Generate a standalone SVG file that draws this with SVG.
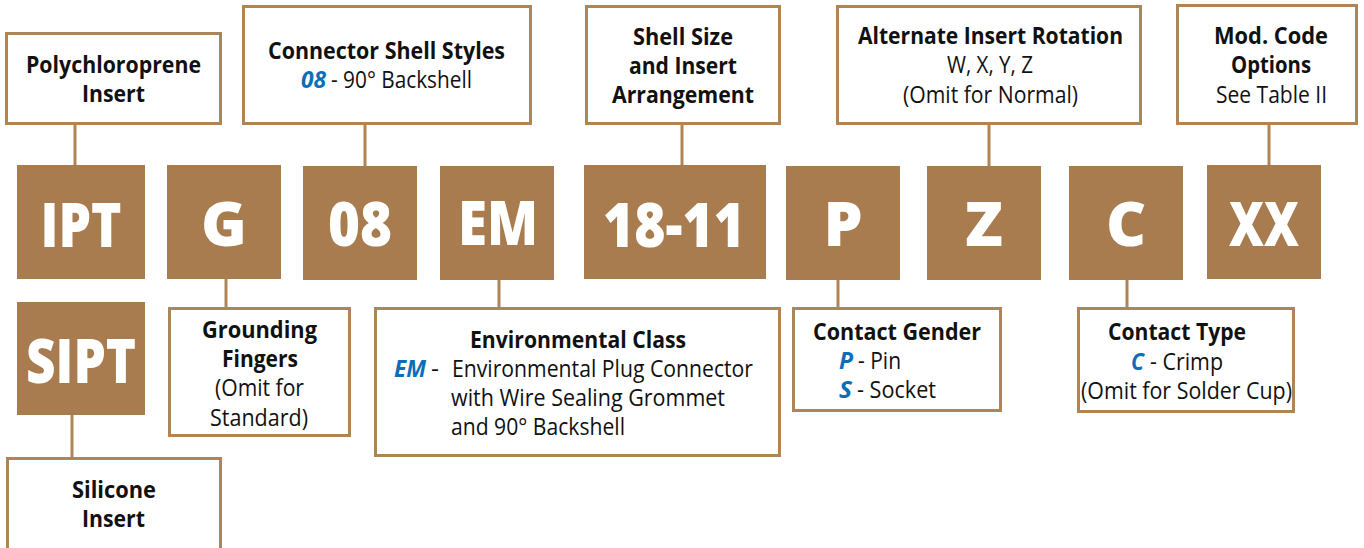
<svg xmlns="http://www.w3.org/2000/svg" width="1364" height="548" viewBox="0 0 1364 548">
<style>
text{font-family:"Open Sans","Noto Sans","Liberation Sans",sans-serif;fill:#111}
.box{fill:#fff;stroke:#b08556;stroke-width:3}
.code{fill:#a97c50}
.big{font-size:62px;font-weight:800;fill:#fff;text-anchor:middle}
.b{font-size:23px;font-weight:700}
.r{font-size:23px}
.k{font-size:23px;font-weight:700;font-style:italic;fill:#0b6fb8}
.c line{stroke:#b08556;stroke-width:3}
</style>
<g id="connectors" class="c">
<line x1="75" y1="124" x2="75" y2="165"/><line x1="365" y1="124" x2="365" y2="166"/><line x1="682" y1="124" x2="682" y2="165"/><line x1="989" y1="124" x2="989" y2="166"/><line x1="1269" y1="124" x2="1269" y2="165"/>
<line x1="226" y1="279" x2="226" y2="308"/><line x1="499" y1="280" x2="499" y2="308"/><line x1="838" y1="280" x2="838" y2="308"/><line x1="1127" y1="280" x2="1127" y2="308"/><line x1="72" y1="415" x2="72" y2="458"/>
</g>
<g id="n-poly"><rect class="box" x="6.500" y="33.500" width="214" height="90"/><text class="b" x="26" y="73" textLength="175" lengthAdjust="spacingAndGlyphs">Polychloroprene</text><text class="b" x="82" y="102" textLength="63" lengthAdjust="spacingAndGlyphs">Insert</text></g>
<g id="n-shell"><rect class="box" x="243.500" y="6.500" width="287" height="117"/><text class="b" x="268" y="59" textLength="237" lengthAdjust="spacingAndGlyphs">Connector Shell Styles</text><text class="k" x="301" y="88" textLength="25" lengthAdjust="spacingAndGlyphs">08</text><text class="r" x="331" y="88" textLength="141" lengthAdjust="spacingAndGlyphs">- 90° Backshell</text></g>
<g id="n-size"><rect class="box" x="586.500" y="6.500" width="193" height="117"/><text class="b" x="633" y="45" textLength="100" lengthAdjust="spacingAndGlyphs">Shell Size</text><text class="b" x="629" y="74" textLength="108" lengthAdjust="spacingAndGlyphs">and Insert</text><text class="b" x="612" y="103" textLength="142" lengthAdjust="spacingAndGlyphs">Arrangement</text></g>
<g id="n-alt"><rect class="box" x="837.500" y="6.500" width="303" height="117"/><text class="b" x="858" y="44" textLength="265" lengthAdjust="spacingAndGlyphs">Alternate Insert Rotation</text><text class="r" x="947" y="73" textLength="86" lengthAdjust="spacingAndGlyphs">W, X, Y, Z</text><text class="r" x="903" y="103" textLength="175" lengthAdjust="spacingAndGlyphs">(Omit for Normal)</text></g>
<g id="n-mod"><rect class="box" x="1177.500" y="5.500" width="179" height="118"/><text class="b" x="1214" y="44" textLength="114" lengthAdjust="spacingAndGlyphs">Mod. Code</text><text class="b" x="1231" y="73" textLength="80" lengthAdjust="spacingAndGlyphs">Options</text><text class="r" x="1216" y="103" textLength="111" lengthAdjust="spacingAndGlyphs">See Table II</text></g>
<g id="c-ipt"><rect class="code" x="17" y="165" width="128" height="114"/><text class="big" x="81" y="247" textLength="81" lengthAdjust="spacingAndGlyphs">IPT</text></g>
<g id="c-g"><rect class="code" x="167" y="165" width="114" height="114"/><text class="big" x="224" y="246">G</text></g>
<g id="c-08"><rect class="code" x="303" y="166" width="114" height="114"/><text class="big" x="360" y="246" textLength="64" lengthAdjust="spacingAndGlyphs">08</text></g>
<g id="c-em"><rect class="code" x="440" y="166" width="114" height="114"/><text class="big" x="498" y="245" textLength="80" lengthAdjust="spacingAndGlyphs">EM</text></g>
<g id="c-size"><rect class="code" x="584" y="165" width="182" height="114"/><text class="big" x="674" y="247" textLength="142" lengthAdjust="spacingAndGlyphs">18-11</text></g>
<g id="c-p"><rect class="code" x="786" y="166" width="114" height="114"/><text class="big" x="843" y="246">P</text></g>
<g id="c-z"><rect class="code" x="927" y="166" width="114" height="114"/><text class="big" x="984" y="246">Z</text></g>
<g id="c-c"><rect class="code" x="1069" y="166" width="114" height="114"/><text class="big" x="1126" y="246">C</text></g>
<g id="c-xx"><rect class="code" x="1207" y="165" width="114" height="114"/><text class="big" x="1264" y="246" textLength="70" lengthAdjust="spacingAndGlyphs">XX</text></g>
<g id="c-sipt"><rect class="code" x="17" y="302" width="128" height="113"/><text class="big" x="81" y="383" textLength="110" lengthAdjust="spacingAndGlyphs">SIPT</text></g>
<g id="n-silicone"><rect class="box" x="7.500" y="458.500" width="213" height="95"/><text class="b" x="72" y="498" textLength="84" lengthAdjust="spacingAndGlyphs">Silicone</text><text class="b" x="82" y="527" textLength="63" lengthAdjust="spacingAndGlyphs">Insert</text></g>
<g id="n-ground"><rect class="box" x="169.500" y="308.500" width="180" height="127"/><text class="b" x="202" y="338" textLength="115" lengthAdjust="spacingAndGlyphs">Grounding</text><text class="b" x="222" y="367" textLength="76" lengthAdjust="spacingAndGlyphs">Fingers</text><text class="r" x="215" y="396" textLength="89" lengthAdjust="spacingAndGlyphs">(Omit for</text><text class="r" x="210" y="426" textLength="98" lengthAdjust="spacingAndGlyphs">Standard)</text></g>
<g id="n-env"><rect class="box" x="375.500" y="308.500" width="404" height="147"/><text class="b" x="470" y="348" textLength="216" lengthAdjust="spacingAndGlyphs">Environmental Class</text><text class="k" x="394" y="377" textLength="32" lengthAdjust="spacingAndGlyphs">EM</text><text class="r" x="431" y="377" textLength="8" lengthAdjust="spacingAndGlyphs">-</text><text class="r" x="452" y="377" textLength="301" lengthAdjust="spacingAndGlyphs">Environmental Plug Connector</text><text class="r" x="451" y="406" textLength="274" lengthAdjust="spacingAndGlyphs">with Wire Sealing Grommet</text><text class="r" x="451" y="435" textLength="174" lengthAdjust="spacingAndGlyphs">and 90° Backshell</text></g>
<g id="n-gender"><rect class="box" x="793.500" y="308.500" width="207" height="102"/><text class="b" x="813" y="340" textLength="168" lengthAdjust="spacingAndGlyphs">Contact Gender</text><text class="k" x="839" y="369" textLength="14" lengthAdjust="spacingAndGlyphs">P</text><text class="r" x="858" y="369" textLength="43" lengthAdjust="spacingAndGlyphs">- Pin</text><text class="k" x="839" y="398" textLength="13" lengthAdjust="spacingAndGlyphs">S</text><text class="r" x="857" y="398" textLength="79" lengthAdjust="spacingAndGlyphs">- Socket</text></g>
<g id="n-type"><rect class="box" x="1078.500" y="308.500" width="215" height="103"/><text class="b" x="1108" y="340" textLength="138" lengthAdjust="spacingAndGlyphs">Contact Type</text><text class="k" x="1131" y="370" textLength="13" lengthAdjust="spacingAndGlyphs">C</text><text class="r" x="1150" y="370" textLength="73" lengthAdjust="spacingAndGlyphs">- Crimp</text><text class="r" x="1081" y="399" textLength="211" lengthAdjust="spacingAndGlyphs">(Omit for Solder Cup)</text></g>
</svg>
